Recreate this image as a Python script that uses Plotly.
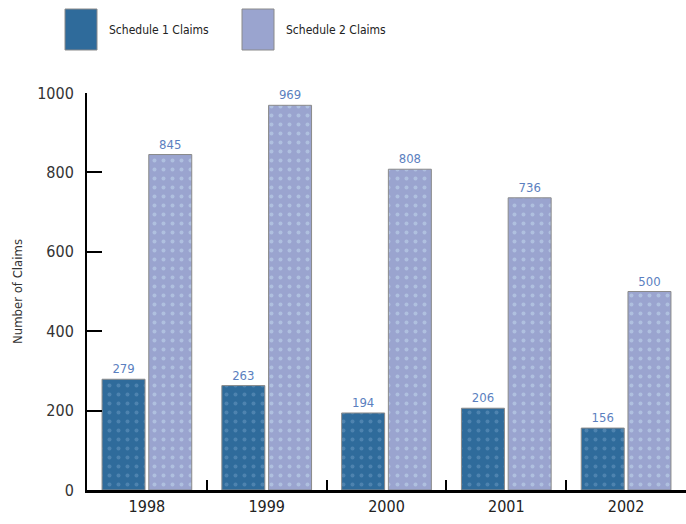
import plotly.graph_objects as go

years = ["1998", "1999", "2000", "2001", "2002"]
schedule1 = [279, 263, 194, 206, 156]
schedule2 = [845, 969, 808, 736, 500]
series_names = ["Schedule 1 Claims", "Schedule 2 Claims"]
y_ticks = [0, 200, 400, 600, 800, 1000]

FONT = "Liberation Sans Narrow, DejaVu Sans Condensed, Arial Narrow, sans-serif"
DARK = "#2f6b9b"
LIGHT = "#9aa4cf"

fig = go.Figure()
for name, vals, col, dot in [(series_names[0], schedule1, DARK, "#6e9cc4"),
                              (series_names[1], schedule2, LIGHT, "#c4dcef")]:
    fig.add_trace(go.Bar(
        x=years, y=vals, name=name,
        marker=dict(color=col, line=dict(color="#8a8a8a", width=1),
                    pattern=dict(shape=".", fgcolor=dot, size=9, solidity=0.15, fillmode="overlay")),
        text=[str(v) for v in vals], textposition="outside", cliponaxis=False,
        textfont=dict(family=FONT, size=13, color="#5b7fc0"),
        showlegend=False,
    ))

fig.update_layout(
    width=686, height=524,
    margin=dict(l=87, r=0, t=93, b=34),
    paper_bgcolor="white", plot_bgcolor="white",
    barmode="group", bargap=0.22, bargroupgap=0.08,
    font=dict(family=FONT, color="#222"),
)
fig.update_xaxes(
    showline=True, linecolor="black", linewidth=3,
    ticks="inside", tickson="boundaries", ticklen=10, tickwidth=2, tickcolor="black",
    tickfont=dict(family=FONT, size=16, color="#222"),
    showgrid=False,
)
fig.update_yaxes(
    range=[0, 1000], tickvals=y_ticks, ticktext=[str(v) for v in y_ticks],
    showline=True, linecolor="black", linewidth=2,
    ticks="inside", ticklen=15, tickwidth=1.5, tickcolor="black",
    tickfont=dict(family=FONT, size=16, color="#333"), ticklabelstandoff=8,
    showgrid=False, zeroline=False,
    title=dict(text="Number of Claims", font=dict(family=FONT, size=13, color="#333"), standoff=12),
)

# legend drawn as boxes + labels
legend_items = [(65, 97, series_names[0], DARK), (242, 274, series_names[1], LIGHT)]
for x0, x1, label, col in legend_items:
    fig.add_shape(type="rect", xref="paper", yref="paper",
                  x0=(x0 - 87) / 599, x1=(x1 - 87) / 599,
                  y0=(490 - 50) / 397, y1=(490 - 9) / 397,
                  fillcolor=col, line=dict(color="#8a8a8a", width=1))
    fig.add_annotation(xref="paper", yref="paper", x=(x1 + 10 - 87) / 599, y=(490 - 30) / 397,
                       text=label, showarrow=False, xanchor="left", yanchor="middle",
                       font=dict(family=FONT, size=12, color="#222"))

fig.write_html("out.html")
